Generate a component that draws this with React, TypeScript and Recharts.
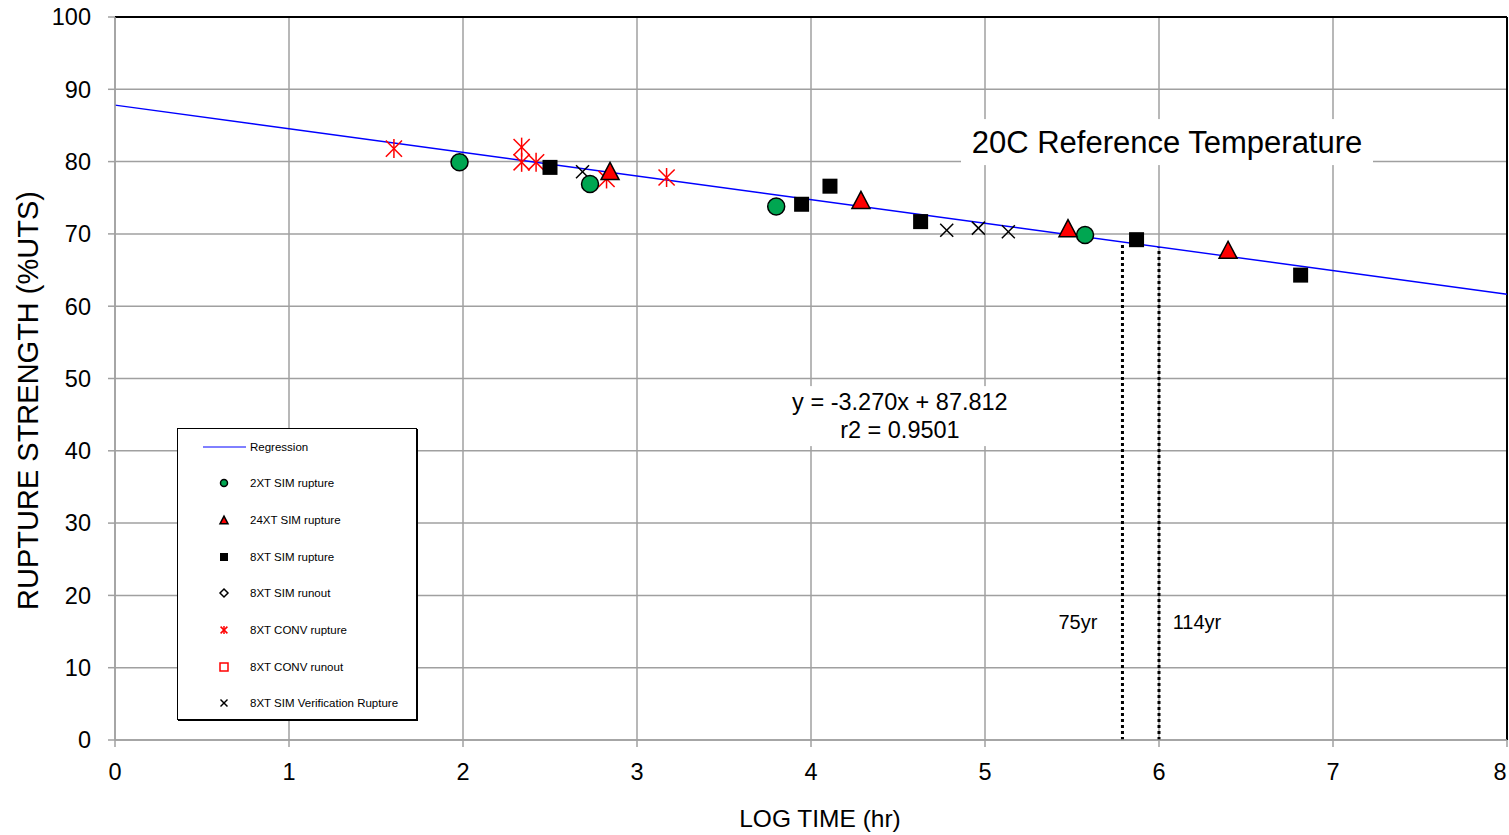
import React from "react";
import {
  CartesianGrid,
  ComposedChart,
  Legend,
  Line,
  ReferenceDot,
  ReferenceLine,
  Scatter,
  XAxis,
  YAxis,
} from "recharts";

const FONT = '"Liberation Sans", Arial, Helvetica, sans-serif';

// log10(hours) vs % of ultimate tensile strength
const sim2xRupture = [
  { x: 1.98, y: 79.9 },
  { x: 2.73, y: 76.9 },
  { x: 3.8, y: 73.8 },
  { x: 5.575, y: 69.85 },
];
const sim24xRupture = [
  { x: 2.845, y: 78.7 },
  { x: 4.287, y: 74.7 },
  { x: 5.477, y: 70.8 },
  { x: 6.397, y: 67.8 },
];
const sim8xRupture = [
  { x: 2.5, y: 79.2 },
  { x: 3.946, y: 74.1 },
  { x: 4.109, y: 76.6 },
  { x: 4.63, y: 71.7 },
  { x: 5.871, y: 69.2 },
  { x: 6.814, y: 64.3 },
];
const sim8xRunout: { x: number; y: number }[] = [];
const conv8xRupture = [
  { x: 1.603, y: 81.8 },
  { x: 2.337, y: 82.0 },
  { x: 2.337, y: 79.9 },
  { x: 2.42, y: 79.9 },
  { x: 2.825, y: 77.6 },
  { x: 3.17, y: 77.8 },
];
const conv8xRunout: { x: number; y: number }[] = [];
const sim8xVerification = [
  { x: 2.687, y: 78.6 },
  { x: 4.78, y: 70.5 },
  { x: 4.962, y: 70.8 },
  { x: 5.134, y: 70.3 },
];

// fitted line y = -3.270x + 87.812
const slope = -3.27;
const intercept = 87.812;
const fitAt = (x: number) => slope * x + intercept;
const regression = [0, 8].map((x) => ({ x, y: fitAt(x) }));

// design life markers (log hours)
const lifeMarks = [
  { x: 5.79, label: "75yr", labelX: 5.534 },
  { x: 6.0, label: "114yr", labelX: 6.218 },
];

const xTicks = [0, 1, 2, 3, 4, 5, 6, 7, 8];
const yTicks = [0, 10, 20, 30, 40, 50, 60, 70, 80, 90, 100];

const GREEN = "#00a651";
const RED = "#ff0000";
const GRID = "#a0a0a0";

type Pt = { cx?: number; cy?: number };

function CircleMark({ cx = 0, cy = 0, r = 8.5 }: Pt & { r?: number }) {
  return <circle cx={cx} cy={cy} r={r} fill={GREEN} stroke="#000" strokeWidth={1.5} />;
}

function TriangleMark({ cx = 0, cy = 0, s = 9 }: Pt & { s?: number }) {
  const h = s * 0.95;
  return (
    <polygon
      points={`${cx},${cy - h} ${cx + s},${cy + h} ${cx - s},${cy + h}`}
      fill={RED}
      stroke="#000"
      strokeWidth={1.5}
      strokeLinejoin="miter"
    />
  );
}

function SquareMark({ cx = 0, cy = 0, s = 7.5 }: Pt & { s?: number }) {
  return <rect x={cx - s} y={cy - s} width={2 * s} height={2 * s} fill="#000" />;
}

function DiamondMark({ cx = 0, cy = 0, s = 4 }: Pt & { s?: number }) {
  return (
    <polygon
      points={`${cx},${cy - s} ${cx + s},${cy} ${cx},${cy + s} ${cx - s},${cy}`}
      fill="#fff"
      stroke="#000"
      strokeWidth={1.5}
    />
  );
}

function StarMark({ cx = 0, cy = 0, s = 9.5, w = 1.5 }: Pt & { s?: number; w?: number }) {
  const d = s * 0.85;
  return (
    <g stroke={RED} strokeWidth={w}>
      <line x1={cx} y1={cy - s} x2={cx} y2={cy + s} />
      <line x1={cx - d} y1={cy - d} x2={cx + d} y2={cy + d} />
      <line x1={cx - d} y1={cy + d} x2={cx + d} y2={cy - d} />
    </g>
  );
}

function OpenSquareMark({ cx = 0, cy = 0, s = 4 }: Pt & { s?: number }) {
  return (
    <rect x={cx - s} y={cy - s} width={2 * s} height={2 * s} fill="#fff" stroke={RED} strokeWidth={1.5} />
  );
}

function CrossMark({ cx = 0, cy = 0, s = 6.5, w = 1.5 }: Pt & { s?: number; w?: number }) {
  return (
    <g stroke="#000" strokeWidth={w}>
      <line x1={cx - s} y1={cy - s} x2={cx + s} y2={cy + s} />
      <line x1={cx - s} y1={cy + s} x2={cx + s} y2={cy - s} />
    </g>
  );
}

const legendRows: { name: string; icon: (cx: number, cy: number) => React.ReactNode }[] = [
  {
    name: "Regression",
    icon: (cx, cy) => <line x1={cx - 21} y1={cy} x2={cx + 22} y2={cy} stroke="#0000ff" strokeWidth={1} />,
  },
  { name: "2XT SIM rupture", icon: (cx, cy) => <CircleMark cx={cx} cy={cy} r={3.5} /> },
  { name: "24XT SIM rupture", icon: (cx, cy) => <TriangleMark cx={cx} cy={cy} s={4} /> },
  { name: "8XT SIM rupture", icon: (cx, cy) => <SquareMark cx={cx} cy={cy} s={4} /> },
  { name: "8XT SIM runout", icon: (cx, cy) => <DiamondMark cx={cx} cy={cy} s={4} /> },
  { name: "8XT CONV rupture", icon: (cx, cy) => <StarMark cx={cx} cy={cy} s={4} w={1.5} /> },
  { name: "8XT CONV runout", icon: (cx, cy) => <OpenSquareMark cx={cx} cy={cy} s={4} /> },
  { name: "8XT SIM Verification Rupture", icon: (cx, cy) => <CrossMark cx={cx} cy={cy} s={3.5} w={1.5} /> },
];

function LegendBox() {
  return (
    <div
      style={{
        position: "relative",
        width: 240,
        height: 292,
        boxSizing: "border-box",
        border: "1px solid #000",
        boxShadow: "1px 1px 0 #000",
        background: "#fff",
        fontFamily: FONT,
        fontSize: 11.5,
        color: "#000",
      }}
    >
      {legendRows.map((row, i) => {
        const top = 17.5 + i * 36.7;
        return (
          <div key={row.name} style={{ position: "absolute", left: 0, top: top - 8, height: 16, width: 240 }}>
            <svg width={70} height={16} style={{ position: "absolute", left: 0, top: 0 }}>
              {row.icon(46, 8)}
            </svg>
            <span style={{ position: "absolute", left: 72, top: 1, whiteSpace: "nowrap", lineHeight: "14px" }}>
              {row.name}
            </span>
          </div>
        );
      })}
    </div>
  );
}

// x tick labels; the last one is pulled inside the right edge
function XTick({ x, y, payload }: any) {
  const last = payload.value === xTicks[xTicks.length - 1];
  return (
    <text
      x={last ? x - 7 : x}
      y={y + 17}
      textAnchor="middle"
      fontFamily={FONT}
      fontSize={23.5}
      fill="#000"
    >
      {payload.value}
    </text>
  );
}

function YTitle({ viewBox }: any) {
  const x = viewBox.x + 28;
  const y = viewBox.y + viewBox.height / 2 + 22;
  return (
    <text
      x={x}
      y={y}
      transform={`rotate(-90 ${x} ${y})`}
      textAnchor="middle"
      dominantBaseline="central"
      fontFamily={FONT}
      fontSize={29}
      fill="#000"
    >
      RUPTURE STRENGTH (%UTS)
    </text>
  );
}

function XTitle({ viewBox }: any) {
  return (
    <text
      x={viewBox.x + viewBox.width / 2 + 9}
      y={viewBox.y + 78}
      textAnchor="middle"
      dominantBaseline="central"
      fontFamily={FONT}
      fontSize={24.5}
      fill="#000"
    >
      LOG TIME (hr)
    </text>
  );
}

// text block with a white backing that hides the grid behind it
function NoteBox(lines: string[], w: number, h: number, size: number, lineGap: number) {
  return ({ cx = 0, cy = 0 }: Pt) => (
    <g>
      <rect x={cx - w / 2} y={cy - h / 2} width={w} height={h} fill="#fff" />
      {lines.map((t, i) => (
        <text
          key={t}
          x={cx}
          y={cy + (i - (lines.length - 1) / 2) * lineGap}
          textAnchor="middle"
          dominantBaseline="central"
          fontFamily={FONT}
          fontSize={size}
          fill="#000"
        >
          {t}
        </text>
      ))}
    </g>
  );
}

const TitleNote = NoteBox(["20C Reference Temperature"], 412, 46, 31, 0);
const EquationNote = NoteBox(["y = -3.270x + 87.812", "r2 = 0.9501"], 232, 60, 23.5, 28);

export default function App() {
  const tickStyle = { fill: "#000", fontSize: 23.5, fontFamily: FONT };
  return (
    <div style={{ position: "absolute", left: 0, top: 0, width: 1509, height: 835, background: "#fff" }}>
      <ComposedChart width={1509} height={835} margin={{ top: 17, right: 2, bottom: 35, left: 0 }}>
        <CartesianGrid stroke={GRID} strokeWidth={1.5} />
        <XAxis
          type="number"
          dataKey="x"
          domain={[0, 8]}
          ticks={xTicks}
          interval={0}
          height={60}
          tickSize={7}
          tickMargin={16}
          stroke={GRID}
          strokeWidth={1.5}
          tick={<XTick />}
          allowDataOverflow
          label={<XTitle />}
        />
        <YAxis
          type="number"
          dataKey="y"
          domain={[0, 100]}
          ticks={yTicks}
          interval={0}
          width={115}
          tickSize={7}
          tickMargin={17}
          stroke={GRID}
          strokeWidth={1.5}
          tick={tickStyle}
          allowDataOverflow
          label={<YTitle />}
        />
        <ReferenceLine y={100} stroke="#000" strokeWidth={2} />
        <ReferenceLine x={8} stroke="#000" strokeWidth={2} />
        {lifeMarks.map((m) => (
          <ReferenceLine
            key={m.label}
            segment={[
              { x: m.x, y: 0 },
              { x: m.x, y: fitAt(m.x) },
            ]}
            stroke="#000"
            strokeWidth={3}
            strokeDasharray="3 3"
          />
        ))}
        {lifeMarks.map((m) => (
          <ReferenceDot
            key={m.label + "-t"}
            x={m.labelX}
            y={16.3}
            r={0}
            ifOverflow="visible"
            shape={({ cx, cy }: any) => (
              <text x={cx} y={cy} textAnchor="middle" dominantBaseline="central" fontFamily={FONT} fontSize={20} fill="#000">
                {m.label}
              </text>
            )}
          />
        ))}
        <ReferenceDot x={6.046} y={82.7} r={0} ifOverflow="visible" shape={TitleNote} />
        <ReferenceDot x={4.511} y={44.8} r={0} ifOverflow="visible" shape={EquationNote} />
        <Line
          data={regression}
          dataKey="y"
          name="Regression"
          stroke="#0000ff"
          strokeWidth={1.4}
          dot={false}
          activeDot={false}
          isAnimationActive={false}
        />
        <Scatter name="8XT CONV rupture" data={conv8xRupture} shape={(p: any) => <StarMark cx={p.cx} cy={p.cy} />} isAnimationActive={false} />
        <Scatter name="8XT CONV runout" data={conv8xRunout} shape={(p: any) => <OpenSquareMark cx={p.cx} cy={p.cy} />} isAnimationActive={false} />
        <Scatter name="8XT SIM Verification Rupture" data={sim8xVerification} shape={(p: any) => <CrossMark cx={p.cx} cy={p.cy} />} isAnimationActive={false} />
        <Scatter name="8XT SIM runout" data={sim8xRunout} shape={(p: any) => <DiamondMark cx={p.cx} cy={p.cy} />} isAnimationActive={false} />
        <Scatter name="8XT SIM rupture" data={sim8xRupture} shape={(p: any) => <SquareMark cx={p.cx} cy={p.cy} />} isAnimationActive={false} />
        <Scatter name="2XT SIM rupture" data={sim2xRupture} shape={(p: any) => <CircleMark cx={p.cx} cy={p.cy} />} isAnimationActive={false} />
        <Scatter name="24XT SIM rupture" data={sim24xRupture} shape={(p: any) => <TriangleMark cx={p.cx} cy={p.cy} />} isAnimationActive={false} />
        <Legend
          layout="vertical"
          align="center"
          verticalAlign="middle"
          wrapperStyle={{ left: 177, top: 428, width: 240, height: 292 }}
          content={() => <LegendBox />}
        />
      </ComposedChart>
    </div>
  );
}
